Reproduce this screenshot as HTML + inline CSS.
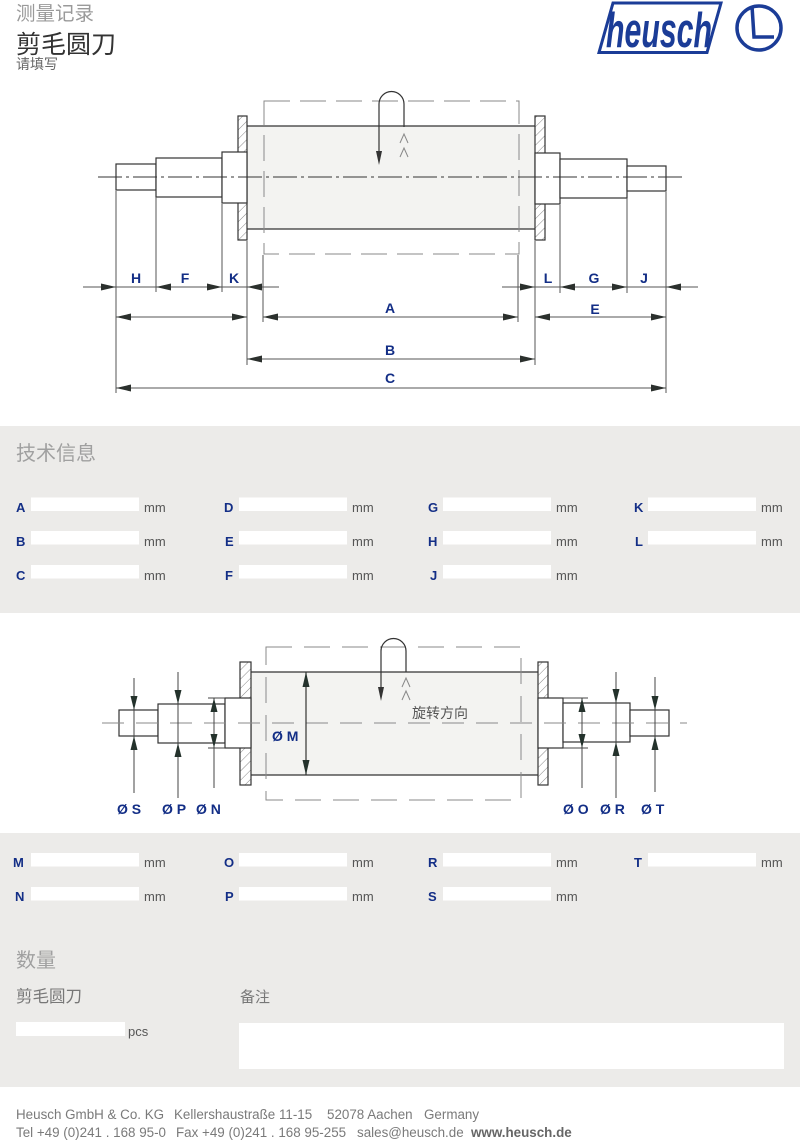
<!DOCTYPE html>
<html><head><meta charset="utf-8">
<style>
html,body{margin:0;padding:0;background:#fff;}
svg{display:block;}
</style></head><body>
<svg width="800" height="1144" viewBox="0 0 800 1144" xmlns="http://www.w3.org/2000/svg" font-family="'Liberation Sans','Noto Sans CJK SC',sans-serif">
<defs>
<pattern id="hat" width="6.5" height="6.5" patternUnits="userSpaceOnUse" patternTransform="rotate(45)">
<rect width="6.5" height="6.5" fill="#fff"/>
<line x1="0" y1="0" x2="0" y2="6.5" stroke="#888" stroke-width="1"/>
</pattern>
</defs>
<rect width="800" height="1144" fill="#fff"/>

<!-- header -->
<text x="16" y="20" font-size="19.5" fill="#9a9a9a" font-family="'Noto Sans CJK SC',sans-serif">测量记录</text>
<text x="16" y="53" font-size="25" fill="#333" font-family="'Noto Sans CJK SC',sans-serif">剪毛圆刀</text>
<text x="16" y="69" font-size="14" fill="#666" font-family="'Noto Sans CJK SC',sans-serif">请填写</text>

<!-- logo -->
<polygon points="613,3 721,3 707,52.5 599,52.5" fill="none" stroke="#1b3c97" stroke-width="3"/>
<text transform="translate(606,47) scale(1,1.3)" font-size="38" font-weight="bold" font-style="italic" fill="#1b3c97" textLength="106" lengthAdjust="spacingAndGlyphs">heusch</text>
<circle cx="759" cy="28" r="22" fill="none" stroke="#1b3c97" stroke-width="3.5"/>
<path d="M752,6 L754,37 L774,37" fill="none" stroke="#1b3c97" stroke-width="3.5"/>

<!-- ===== top diagram ===== -->
<g stroke="#333" stroke-width="1.2">
<rect x="247" y="126" width="288" height="103" fill="#f3f3f1" stroke="none"/>
<line x1="247" y1="126" x2="535" y2="126"/>
<line x1="247" y1="229" x2="535" y2="229"/>
<rect x="238" y="116" width="9" height="124" fill="url(#hat)"/>
<rect x="535" y="116" width="10" height="124" fill="url(#hat)"/>
<rect x="116" y="164" width="40" height="26" fill="#fff"/>
<rect x="156" y="158" width="66" height="39" fill="#fff"/>
<rect x="222" y="152" width="25" height="51" fill="#fff"/>
<rect x="535" y="153" width="25" height="51" fill="#fff"/>
<rect x="560" y="159" width="67" height="39" fill="#fff"/>
<rect x="627" y="166" width="39" height="25" fill="#fff"/>
</g>
<rect x="264" y="101" width="255" height="153" fill="none" stroke="#8a8a8a" stroke-width="1" stroke-dasharray="26 10"/>
<line x1="98" y1="177" x2="683" y2="177" stroke="#333" stroke-width="1" stroke-dasharray="24 4 3 4"/>
<!-- rotation loop -->
<path d="M379,152 L379,104 A12.5,12.5 0 0 1 404,104 L404,127" fill="none" stroke="#333" stroke-width="1.2"/>
<polygon points="379,165 376,151 382,151" fill="#333"/>
<path d="M400,143 L404,134 L408,143 M400,157 L404,148 L408,157" fill="none" stroke="#888" stroke-width="1"/>

<!-- extension lines -->
<g stroke="#555" stroke-width="1">
<line x1="116" y1="191" x2="116" y2="393"/>
<line x1="156" y1="197" x2="156" y2="292"/>
<line x1="222" y1="204" x2="222" y2="292"/>
<line x1="247" y1="241" x2="247" y2="365"/>
<line x1="263" y1="255" x2="263" y2="322"/>
<line x1="518" y1="255" x2="518" y2="322"/>
<line x1="535" y1="241" x2="535" y2="365"/>
<line x1="560" y1="205" x2="560" y2="293"/>
<line x1="627" y1="198" x2="627" y2="293"/>
<line x1="666" y1="192" x2="666" y2="393"/>
<!-- dimension lines -->
<line x1="83" y1="287" x2="279" y2="287"/>
<line x1="502" y1="287" x2="698" y2="287"/>
<line x1="116" y1="317" x2="247" y2="317"/>
<line x1="263" y1="317" x2="518" y2="317"/>
<line x1="535" y1="317" x2="666" y2="317"/>
<line x1="247" y1="359" x2="535" y2="359"/>
<line x1="116" y1="388" x2="666" y2="388"/>
</g>
<g fill="#2b302d">
<polygon points="116,287 101,283.5 101,290.5"/>
<polygon points="156,287 171,283.5 171,290.5"/>
<polygon points="222,287 207,283.5 207,290.5"/>
<polygon points="247,287 262,283.5 262,290.5"/>
<polygon points="535,287 520,283.5 520,290.5"/>
<polygon points="560,287 575,283.5 575,290.5"/>
<polygon points="627,287 612,283.5 612,290.5"/>
<polygon points="666,287 681,283.5 681,290.5"/>
<polygon points="116,317 131,313.5 131,320.5"/>
<polygon points="247,317 232,313.5 232,320.5"/>
<polygon points="263,317 278,313.5 278,320.5"/>
<polygon points="518,317 503,313.5 503,320.5"/>
<polygon points="535,317 550,313.5 550,320.5"/>
<polygon points="666,317 651,313.5 651,320.5"/>
<polygon points="247,359 262,355.5 262,362.5"/>
<polygon points="535,359 520,355.5 520,362.5"/>
<polygon points="116,388 131,384.5 131,391.5"/>
<polygon points="666,388 651,384.5 651,391.5"/>
</g>
<g font-size="14" font-weight="bold" fill="#132e86" text-anchor="middle">
<text x="136" y="283">H</text>
<text x="185" y="283">F</text>
<text x="234" y="283">K</text>
<text x="548" y="283">L</text>
<text x="594" y="283">G</text>
<text x="644" y="283">J</text>
<text x="390" y="313">A</text>
<text x="595" y="314">E</text>
<text x="390" y="355">B</text>
<text x="390" y="383">C</text>
</g>

<!-- ===== band 1 ===== -->
<rect x="0" y="426" width="800" height="187" fill="#ecebe9"/>
<text x="16" y="460" font-size="20" fill="#a0a0a0" font-family="'Noto Sans CJK SC',sans-serif">技术信息</text>
<g fill="#fff">
<rect x="31" y="497.5" width="108" height="13.5"/><rect x="239" y="497.5" width="108" height="13.5"/><rect x="443" y="497.5" width="108" height="13.5"/><rect x="648" y="497.5" width="108" height="13.5"/>
<rect x="31" y="531" width="108" height="13.5"/><rect x="239" y="531" width="108" height="13.5"/><rect x="443" y="531" width="108" height="13.5"/><rect x="648" y="531" width="108" height="13.5"/>
<rect x="31" y="565" width="108" height="13.5"/><rect x="239" y="565" width="108" height="13.5"/><rect x="443" y="565" width="108" height="13.5"/>
</g>
<g font-size="13" font-weight="bold" fill="#132e86">
<text x="16" y="512">A</text><text x="224" y="512">D</text><text x="428" y="512">G</text><text x="634" y="512">K</text>
<text x="16" y="546">B</text><text x="225" y="546">E</text><text x="428" y="546">H</text><text x="635" y="546">L</text>
<text x="16" y="580">C</text><text x="225" y="580">F</text><text x="430" y="580">J</text>
</g>
<g font-size="13" fill="#555">
<text x="144" y="512">mm</text><text x="352" y="512">mm</text><text x="556" y="512">mm</text><text x="761" y="512">mm</text>
<text x="144" y="546">mm</text><text x="352" y="546">mm</text><text x="556" y="546">mm</text><text x="761" y="546">mm</text>
<text x="144" y="580">mm</text><text x="352" y="580">mm</text><text x="556" y="580">mm</text>
</g>

<!-- ===== second diagram ===== -->
<g stroke="#333" stroke-width="1.2">
<rect x="251" y="672" width="287" height="103" fill="#f3f3f1" stroke="none"/>
<line x1="251" y1="672" x2="538" y2="672"/>
<line x1="251" y1="775" x2="538" y2="775"/>
<rect x="240" y="662" width="11" height="123" fill="url(#hat)"/>
<rect x="538" y="662" width="10" height="123" fill="url(#hat)"/>
<rect x="119" y="710" width="39" height="26" fill="#fff"/>
<rect x="158" y="704" width="67" height="39" fill="#fff"/>
<rect x="225" y="698" width="26" height="50" fill="#fff"/>
<rect x="538" y="698" width="25" height="50" fill="#fff"/>
<rect x="563" y="703" width="67" height="39" fill="#fff"/>
<rect x="630" y="710" width="39" height="26" fill="#fff"/>
</g>
<rect x="266" y="647" width="255" height="153" fill="none" stroke="#8a8a8a" stroke-width="1" stroke-dasharray="26 12"/>
<line x1="102" y1="723" x2="687" y2="723" stroke="#8a8a8a" stroke-width="1" stroke-dasharray="22 12"/>
<path d="M381,688 L381,651 A12.5,12.5 0 0 1 406,651 L406,672" fill="none" stroke="#333" stroke-width="1.2"/>
<polygon points="381,701 378,687 384,687" fill="#333"/>
<path d="M402,687 L406,678 L410,687 M402,700 L406,691 L410,700" fill="none" stroke="#888" stroke-width="1"/>
<text x="412" y="718" font-size="14" fill="#555" font-family="'Noto Sans CJK SC',sans-serif">旋转方向</text>

<g stroke="#444" stroke-width="1">
<line x1="134" y1="678" x2="134" y2="793"/>
<line x1="178" y1="672" x2="178" y2="798"/>
<line x1="214" y1="698" x2="214" y2="788"/>
<line x1="208" y1="698" x2="225" y2="698"/>
<line x1="208" y1="748" x2="225" y2="748"/>
<line x1="306" y1="672" x2="306" y2="775" stroke="#333" stroke-width="1.2"/>
<line x1="582" y1="698" x2="582" y2="788"/>
<line x1="563" y1="698" x2="588" y2="698"/>
<line x1="563" y1="748" x2="588" y2="748"/>
<line x1="616" y1="672" x2="616" y2="798"/>
<line x1="655" y1="677" x2="655" y2="792"/>
</g>
<g fill="#24322c">
<polygon points="134,710 130.5,696 137.5,696"/>
<polygon points="134,736 130.5,750 137.5,750"/>
<polygon points="178,704 174.5,690 181.5,690"/>
<polygon points="178,743 174.5,757 181.5,757"/>
<polygon points="214,698 210.5,712 217.5,712"/>
<polygon points="214,748 210.5,734 217.5,734"/>
<polygon points="306,672 302.5,687 309.5,687"/>
<polygon points="306,775 302.5,760 309.5,760"/>
<polygon points="582,698 578.5,712 585.5,712"/>
<polygon points="582,748 578.5,734 585.5,734"/>
<polygon points="616,703 612.5,689 619.5,689"/>
<polygon points="616,742 612.5,756 619.5,756"/>
<polygon points="655,710 651.5,696 658.5,696"/>
<polygon points="655,736 651.5,750 658.5,750"/>
</g>
<g font-size="14" font-weight="bold" fill="#132e86">
<text x="272" y="741">Ø M</text>
<text x="117" y="814">Ø S</text>
<text x="162" y="814">Ø P</text>
<text x="196" y="814">Ø N</text>
<text x="563" y="814">Ø O</text>
<text x="600" y="814">Ø R</text>
<text x="641" y="814">Ø T</text>
</g>

<!-- ===== band 2 ===== -->
<rect x="0" y="833" width="800" height="254" fill="#ecebe9"/>
<g fill="#fff">
<rect x="31" y="853" width="108" height="13.5"/><rect x="239" y="853" width="108" height="13.5"/><rect x="443" y="853" width="108" height="13.5"/><rect x="648" y="853" width="108" height="13.5"/>
<rect x="31" y="887" width="108" height="13.5"/><rect x="239" y="887" width="108" height="13.5"/><rect x="443" y="887" width="108" height="13.5"/>
<rect x="16" y="1022" width="109" height="14"/>
<rect x="239" y="1023" width="545" height="46"/>
</g>
<g font-size="13" font-weight="bold" fill="#132e86">
<text x="13" y="867">M</text><text x="224" y="867">O</text><text x="428" y="867">R</text><text x="634" y="867">T</text>
<text x="15" y="901">N</text><text x="225" y="901">P</text><text x="428" y="901">S</text>
</g>
<g font-size="13" fill="#555">
<text x="144" y="867">mm</text><text x="352" y="867">mm</text><text x="556" y="867">mm</text><text x="761" y="867">mm</text>
<text x="144" y="901">mm</text><text x="352" y="901">mm</text><text x="556" y="901">mm</text>
<text x="128" y="1036">pcs</text>
</g>
<text x="16" y="967" font-size="20" fill="#a0a0a0" font-family="'Noto Sans CJK SC',sans-serif">数量</text>
<text x="16" y="1002" font-size="16.5" fill="#777" font-family="'Noto Sans CJK SC',sans-serif">剪毛圆刀</text>
<text x="240" y="1002" font-size="15" fill="#777" font-family="'Noto Sans CJK SC',sans-serif">备注</text>

<!-- footer -->
<g font-size="13.4" fill="#7a7a7a">
<text x="16" y="1119">Heusch GmbH &amp; Co. KG</text>
<text x="174" y="1119">Kellershaustraße 11-15</text>
<text x="327" y="1119">52078 Aachen</text>
<text x="424" y="1119">Germany</text>
<text x="16" y="1137">Tel +49 (0)241 . 168 95-0</text>
<text x="176" y="1137">Fax +49 (0)241 . 168 95-255</text>
<text x="357" y="1137">sales@heusch.de</text>
<text x="471" y="1137" font-weight="bold" fill="#666">www.heusch.de</text>
</g>
</svg>
</body></html>
